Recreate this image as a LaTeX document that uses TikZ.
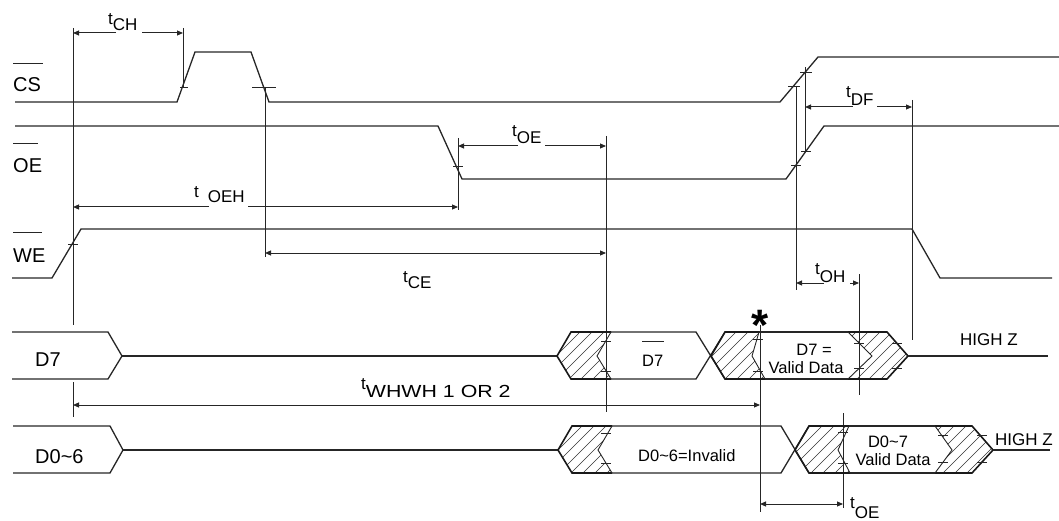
\documentclass[tikz,border=0pt]{standalone}
\usepackage{fontspec}
\setmainfont{Liberation Sans}
\usetikzlibrary{arrows.meta}
\newcommand\hatchfill[1]{\begin{scope}\clip #1;\foreach \k in {340,352,...,1060}\draw[hl] (\k,500)--++(200,-200);\end{scope}}
\newcommand\tickh[3]{\draw[tk] (#1,#2) ++(-#3,0) -- ++(2*#3,0);}
\begin{document}
\begin{tikzpicture}[x=1pt,y=-1pt,
  sig/.style={line width=1.3pt, black!85},
  vl/.style={line width=0.8pt, black!85},
  dim/.style={line width=1.0pt, black!85, -{Triangle[length=6pt,width=5pt]}},
  dimd/.style={line width=1.0pt, black!85, {Triangle[length=6pt,width=5pt]}-{Triangle[length=6pt,width=5pt]}},
  tk/.style={line width=0.8pt, black!85},
  bd/.style={line width=1.6pt, black!90},
  bdt/.style={line width=0.9pt, black!85},
  hl/.style={line width=0.6pt, black!80},
  lab/.style={font=\fontsize{20}{24}\selectfont, inner sep=0pt, anchor=base west},
  tl/.style={font=\fontsize{17}{20}\selectfont, inner sep=0pt, anchor=base west},
  txt/.style={font=\fontsize{16.5}{20}\selectfont, inner sep=0pt},
]
\path[use as bounding box] (0,0) rectangle (1059,521);

% signal labels
\node[lab] (lcs) at (13,92) {CS};
\draw[bdt] (13,63)--(43,63);
\node[lab] (loe) at (13,173) {OE};
\draw[bdt] (13,143)--(38,143);
\node[lab] (lwe) at (13,262) {WE};
\draw[bdt] (13,232)--(42,232);

% control signals
\draw[sig] (15,102)--(177,102)--(195,52)--(251,52)--(269,102)--(780,102)--(818,57)--(1059,57);
\draw[sig] (15,126)--(438,126)--(462,179)--(786,179)--(824,126)--(1059,126);
\draw[sig] (12,278)--(52,278)--(81,229)--(912,229)--(940,278)--(1052,278);

% ticks on edges
\tickh{184}{87}{4}
\tickh{264}{87}{12}
\tickh{458}{166}{5}
\tickh{73}{244}{5}
\tickh{794}{86}{6}
\tickh{806}{72}{6}
\tickh{796}{165}{5}
\tickh{806}{151}{5}

% vertical reference lines
\draw[vl] (73,28)--(73,325);
\draw[vl] (73,382)--(73,417);
\draw[vl] (183,28)--(183,88);
\draw[vl] (265,87)--(265,257);
\draw[vl] (458,138)--(458,210);
\draw[vl] (606,136)--(606,412);
\draw[vl] (796,86)--(796,290);
\draw[vl] (805,67)--(805,152);
\draw[vl] (912,100)--(912,340);
\draw[vl] (859,274)--(859,395);
\draw[vl] (760,325)--(760,512);
\draw[vl] (843,413)--(843,508);

% dimension arrows
\draw[dim] (116,33)--(73,33);  \draw[dim] (142,33)--(183,33);
\draw[dim] (209,207)--(73,207); \draw[dim] (248,207)--(458,207);
\draw[dimd] (265,253)--(606,253);
\draw[dim] (518,146)--(458,146); \draw[dim] (545,146)--(606,146);
\draw[dim] (853,107)--(805,107); \draw[dim] (877,107)--(912,107);
\draw[dim] (824,283)--(796,283); \draw[dim] (850,283)--(859,283);
\draw[dimd] (73,405)--(760,405);
\draw[dimd] (760,504)--(843,504);

% timing labels
\node[tl] (tch) at (108,25) {t\raisebox{-6pt}{CH}};
\node[tl] (toeh) at (194,198) {t\hspace{9pt}\raisebox{-5pt}{OEH}};
\node[tl] (toe) at (512,137) {t\raisebox{-7pt}{OE}};
\node[tl] (tce) at (403,282) {t\raisebox{-6pt}{CE}};
\node[tl] (tdf) at (846,98) {t\raisebox{-8pt}{DF}};
\node[tl] (toh) at (815,274) {t\raisebox{-8pt}{OH}};
\node[tl] (toeb) at (850,508) {t\raisebox{-10pt}{OE}};
\node[tl] (twh) at (361,389) {t\raisebox{-8pt}{\scalebox{1.22}[1]{\fontsize{17.5}{20}\selectfont WHWH 1 OR 2}}};

% D7 row
\node[lab] (ld7) at (35,366) {D7};
\draw[sig] (12,332)--(108,332)--(122,356)--(108,379)--(12,379);
\draw[sig] (122,356)--(557,356);
\hatchfill{(557,356)--(571,332)--(611,332)--(597,356)--(611,379)--(571,379)--cycle}
\hatchfill{(711,356)--(725,332)--(759,332)--(752,356)--(765,379)--(725,379)--cycle}
\hatchfill{(848,332)--(887,332)--(908,356)--(887,379)--(848,379)--(872,356)--cycle}
\draw[sig] (611,332)--(696,332)--(725,379) (611,379)--(696,379)--(725,332);
\draw[sig] (759,332)--(848,332) (765,379)--(848,379);
\draw[bd] (611,332)--(571,332)--(557,356)--(571,379)--(611,379);
\draw[bdt] (611,332)--(597,356)--(611,379);
\draw[bd] (759,332)--(725,332)--(711,356)--(725,379)--(765,379);
\draw[bdt] (759,332)--(752,356)--(765,379);
\draw[bd] (848,332)--(887,332)--(908,356)--(887,379)--(848,379);
\draw[bdt] (848,332)--(872,356)--(848,379);
\draw[sig] (908,356)--(1048,356);
\tickh{606}{341}{5} \tickh{606}{371}{5}
\tickh{758}{339}{5} \tickh{758}{371}{5}
\tickh{859}{343}{5} \tickh{859}{368}{5}
\tickh{897}{343}{5} \tickh{897}{368}{5}
\node[txt,anchor=base west] (d7b) at (642,366) {D7};
\draw[bdt] (642,341)--(664,341);
\node[txt,anchor=base] (d7v1) at (814,355) {D7 =};
\node[txt,anchor=base] (d7v2) at (806,373) {Valid Data};
\node[txt,anchor=base west,font=\fontsize{17}{20}\selectfont] (hz1) at (960,345) {HIGH Z};
\node[anchor=base,inner sep=0pt,font=\fontsize{44}{48}\selectfont\bfseries] (ast) at (760,340) {*};

% D0~6 row
\node[lab] (ld0) at (35,463) {D0\textasciitilde 6};
\draw[sig] (13,426)--(110,426)--(123,450)--(110,473)--(13,473);
\draw[sig] (123,450)--(558,450);
\hatchfill{(558,450)--(572,426)--(612,426)--(598,450)--(612,473)--(572,473)--cycle}
\hatchfill{(795,450)--(809,426)--(849,426)--(838,450)--(850,473)--(809,473)--cycle}
\hatchfill{(935,426)--(972,426)--(993,450)--(972,473)--(935,473)--(952,450)--cycle}
\draw[sig] (612,426)--(781,426)--(809,473) (612,473)--(781,473)--(809,426);
\draw[sig] (849,426)--(935,426) (850,473)--(935,473);
\draw[bd] (612,426)--(572,426)--(558,450)--(572,473)--(612,473);
\draw[bdt] (612,426)--(598,450)--(612,473);
\draw[bd] (849,426)--(809,426)--(795,450)--(809,473)--(850,473);
\draw[bdt] (849,426)--(838,450)--(850,473);
\draw[bd] (935,426)--(972,426)--(993,450)--(972,473)--(935,473);
\draw[bdt] (935,426)--(952,450)--(935,473);
\draw[sig] (993,450)--(1050,450);
\tickh{606}{433}{5} \tickh{606}{463}{5}
\tickh{843}{432}{5} \tickh{843}{463}{5}
\tickh{943}{435}{5} \tickh{943}{462}{5}
\tickh{982}{435}{5} \tickh{982}{462}{5}
\node[txt,anchor=base west] (d0i) at (638,461) {D0\textasciitilde 6=Invalid};
\node[txt,anchor=base] (d0v1) at (888,447) {D0\textasciitilde 7};
\node[txt,anchor=base] (d0v2) at (893,465) {Valid Data};
\node[txt,anchor=base west,font=\fontsize{17}{20}\selectfont] (hz2) at (995,445) {HIGH Z};
\end{tikzpicture}
\end{document}
